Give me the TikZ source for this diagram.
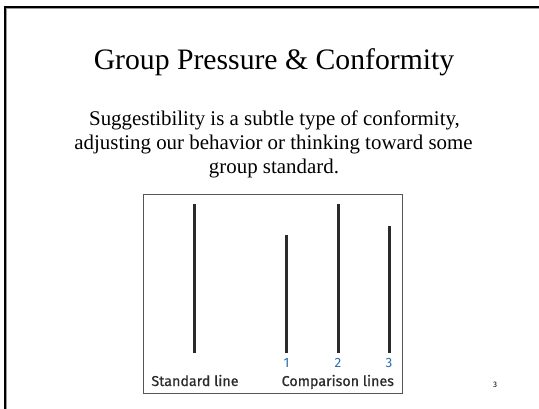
\documentclass[tikz,border=0pt]{standalone}
\usepackage{fontspec}
\setmainfont{Liberation Serif}
\newfontfamily\labelfont[FakeBold=0.6]{Fira Sans}
\newfontfamily\plainsans{Fira Sans}
\definecolor{framegray}{HTML}{9A9A9A}
\definecolor{boxgray}{HTML}{555555}
\definecolor{barcol}{HTML}{2B2B2B}
\definecolor{numblue}{HTML}{2C6DAE}
\tikzset{
  titletext/.style={anchor=base, inner sep=0pt, font=\fontsize{29.7}{34}\selectfont},
  bodytext/.style={anchor=base, inner sep=0pt, font=\fontsize{20.9}{24}\selectfont},
  bar/.style={line width=3pt, draw=barcol},
  lbl/.style={anchor=base, inner sep=0pt, text=barcol, font=\labelfont\fontsize{14.3}{16}\selectfont},
  num/.style={anchor=base, inner sep=0pt, text=numblue, font=\plainsans\fontsize{13.5}{15}\selectfont},
}
\begin{document}
\begin{tikzpicture}[x=1pt,y=-1pt]
\useasboundingbox (0,0) rectangle (539,409);
\fill[white] (0,0) rectangle (539,409);
% slide frame
\draw[line width=2pt, black] (5,409) -- (5,7) -- (539,7);
\draw[line width=1pt, framegray] (6.5,409) -- (6.5,8.5) -- (539,8.5);
% title and body
\node[titletext] (title) at (274,69.5) {Group Pressure \& Conformity};
\node[bodytext] (body1) at (274.5,125.7) {Suggestibility is a subtle type of conformity,};
\node[bodytext] (body2) at (273.5,150) {adjusting our behavior or thinking toward some};
\node[bodytext] (body3) at (274,174) {group standard.};
% figure box
\draw[line width=1pt, boxgray] (143.5,195) rectangle (402,393.5);
% lines
\coordinate (s0) at (194.6,352.7); \coordinate (s1) at (194.6,204);
\coordinate (a0) at (286.5,352.7); \coordinate (a1) at (286.5,235);
\coordinate (b0) at (338,352.7);   \coordinate (b1) at (338,204);
\coordinate (c0) at (389,352.7);   \coordinate (c1) at (389,225.7);
\draw[bar] (s0) -- (s1);
\draw[bar] (a0) -- (a1);
\draw[bar] (b0) -- (b1);
\draw[bar] (c0) -- (c1);
\node[num] (n1) at (286.5,367.3) {1};
\node[num] (n2) at (338,367.3) {2};
\node[num] (n3) at (389,367.3) {3};
\node[lbl] (std) at (195,386) {Standard line};
\node[lbl] (cmp) at (337.8,386) {Comparison lines};
\node[anchor=base, inner sep=0pt, font=\plainsans\fontsize{8}{9}\selectfont] (page) at (495,388) {3};
\end{tikzpicture}
\end{document}
